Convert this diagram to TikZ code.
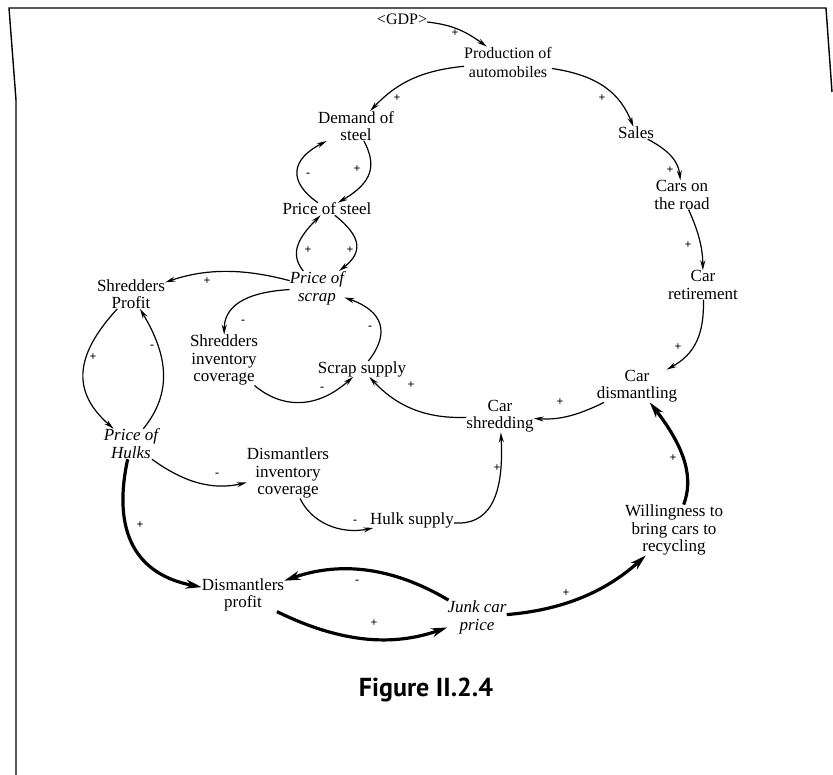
\documentclass[tikz,border=0pt]{standalone}
\usepackage{fontspec}
\setmainfont{Liberation Serif}
\newfontfamily\capfont{PT Sans}
\usetikzlibrary{arrows.meta,calc}
\newcommand\qarc[4]{\draw[#1] (#2) .. controls ($(#2)!0.667!(#4)$) and ($(#3)!0.667!(#4)$) .. (#3);}
\tikzset{
 lab/.style={align=center, font=\fontsize{17}{17.5}\selectfont, inner sep=0pt},
 ilab/.style={align=center, font=\fontsize{17}{18}\selectfont\itshape, inner sep=0pt},
 toplab/.style={align=center, font=\fontsize{16}{19}\selectfont, inner sep=0pt},
 sgn/.style={font=\fontsize{12}{12}\selectfont\bfseries, inner sep=0pt},
 ln/.style={line width=1.2pt, -{Stealth[length=10pt,width=5pt]}},
 tk/.style={line width=3.2pt, -{Stealth[length=16pt,width=9pt]}},
 frame/.style={line width=1.4pt},
}
\begin{document}
\begin{tikzpicture}[x=1pt,y=1pt]
\useasboundingbox (0,0) rectangle (833,-775);
% frame
\draw[frame] (16,-775) -- (16,-100) -- (9,-8) -- (826,-8) -- (832,-92);
% nodes
\node[toplab] (gdp) at (402,-19) {\textless GDP\textgreater};
\node[toplab] (prod) at (508,-62) {Production of\\automobiles};
\node[lab] (demand) at (356,-126) {Demand of\\steel};
\node[lab] (psteel) at (327,-209) {Price of steel};
\node[ilab] (pscrap) at (317,-288) {Price of\\scrap};
\node[lab] (sprofit) at (131,-294) {Shredders\\Profit};
\node[lab] (sinv) at (224,-360) {Shredders\\inventory\\coverage};
\node[lab] (ssupply) at (362,-369) {Scrap supply};
\node[ilab] (phulks) at (131,-444) {Price of\\Hulks};
\node[lab] (dinv) at (288,-473) {Dismantlers\\inventory\\coverage};
\node[lab] (hsupply) at (412,-520) {Hulk supply};
\node[lab] (cshred) at (500,-416) {Car\\shredding};
\node[lab] (cdism) at (637,-386) {Car\\dismantling};
\node[lab] (sales) at (636,-133) {Sales};
\node[lab] (carsroad) at (682,-195) {Cars on\\the road};
\node[lab] (cretire) at (703,-285) {Car\\retirement};
\node[lab] (willing) at (674,-530) {Willingness to\\bring cars to\\recycling};
\node[lab] (dprofit) at (243,-595) {Dismantlers\\profit};
\node[ilab] (junk) at (477,-617) {Junk car\\price};
\node[font=\capfont\bfseries\fontsize{26}{26}\selectfont, inner sep=0pt] (cap) at (426,-690) {Figure II.2.4};
% connectors
\qarc{ln}{[shift={(33,-5)}]gdp}{[shift={(-33,24)}]prod}{457,-25}
\qarc{ln}{[shift={(-61,-4)}]prod}{[shift={(19,18)}]demand}{405,-73}
\qarc{ln}{[shift={(59,-6)}]prod}{[shift={(-9,8)}]sales}{617,-79.5}
\qarc{ln}{[shift={(21,-12)}]sales}{[shift={(-2,17)}]carsroad}{677.5,-154.5}
\qarc{ln}{[shift={(10,-25)}]carsroad}{[shift={(-1,17)}]cretire}{703,-240}
\qarc{ln}{[shift={(0,-25)}]cretire}{[shift={(38,16)}]cdism}{705,-346}
\qarc{ln}{[shift={(-44,-26)}]cdism}{[shift={(38,-6)}]cshred}{566.5,-419}
\qarc{ln}{[shift={(-40,-7)}]cshred}{[shift={(11,-14)}]ssupply}{407.5,-417}
\qarc{ln}{[shift={(16,14)}]ssupply}{[shift={(40,0)}]pscrap}{396.5,-322.5}
\qarc{ln}{[shift={(-42,1)}]pscrap}{[shift={(-1,25)}]sinv}{225,-295}
\qarc{ln}{[shift={(23,-27)}]sinv}{[shift={(-12,-14)}]ssupply}{301.5,-421}
\qarc{ln}{[shift={(-39,12)}]pscrap}{[shift={(37,12)}]sprofit}{221,-263}
\qarc{ln}{[shift={(-31,-26)}]sprofit}{[shift={(-28,17)}]phulks}{58.5,-376.5}
\qarc{ln}{[shift={(27,14)}]phulks}{[shift={(17,-26)}]sprofit}{179,-375}
\qarc{ln}{[shift={(-20,7)}]psteel}{[shift={(-39,-9)}]demand}{278,-171.5}
\qarc{ln}{[shift={(11,-26)}]demand}{[shift={(26,6)}]psteel}{382,-172.5}
\qarc{ln}{[shift={(-22,18)}]pscrap}{[shift={(-20,-16)}]psteel}{289,-248.5}
\qarc{ln}{[shift={(21,-16)}]psteel}{[shift={(41,16)}]pscrap}{367,-241.5}
\qarc{ln}{[shift={(26,-26)}]phulks}{[shift={(-46,-15)}]dinv}{200.5,-491}
\qarc{ln}{[shift={(10,-27)}]dinv}{[shift={(-27,-15)}]hsupply}{318.5,-534.5}
\qarc{ln}{[shift={(43,-6)}]hsupply}{[shift={(5,-32)}]cshred}{504,-525}
\qarc{tk}{[shift={(-9,-24)}]phulks}{[shift={(-46,2)}]dprofit}{106.5,-565.5}
\qarc{tk}{[shift={(-34,22)}]junk}{[shift={(44,13)}]dprofit}{365,-551.5}
\qarc{tk}{[shift={(39,-25)}]dprofit}{[shift={(-40,-14)}]junk}{370.5,-654.5}
\qarc{tk}{[shift={(38,0)}]junk}{[shift={(-31,-32)}]willing}{587,-606.5}
\qarc{tk}{[shift={(8,22)}]willing}{[shift={(28,-34)}]cdism}{698.5,-466}
% signs
\node[sgn] (s1) at (455,-33) {+};
\node[sgn] (s2) at (397,-98) {+};
\node[sgn] (s3) at (602,-98) {+};
\node[sgn] (s4) at (670,-170) {+};
\node[sgn] (s5) at (688,-245) {+};
\node[sgn] (s6) at (678,-347) {+};
\node[sgn] (s7) at (560,-402) {+};
\node[sgn] (s8) at (411,-385) {+};
\node[sgn] (s9) at (370,-328) {-};
\node[sgn] (s10) at (243,-322) {-};
\node[sgn] (s11) at (322,-389) {-};
\node[sgn] (s12) at (207,-281) {+};
\node[sgn] (s13) at (93,-357) {+};
\node[sgn] (s14) at (152,-347) {-};
\node[sgn] (s15) at (308,-175) {-};
\node[sgn] (s16) at (357,-169) {+};
\node[sgn] (s17) at (308,-250) {+};
\node[sgn] (s18) at (350,-250) {+};
\node[sgn] (s19) at (217,-475) {-};
\node[sgn] (s20) at (355,-522) {-};
\node[sgn] (s21) at (497,-468) {+};
\node[sgn] (s22) at (140,-525) {+};
\node[sgn] (s23) at (357,-582) {-};
\node[sgn] (s24) at (374,-623) {+};
\node[sgn] (s25) at (566,-593) {+};
\node[sgn] (s26) at (673,-458) {+};
\end{tikzpicture}
\end{document}
